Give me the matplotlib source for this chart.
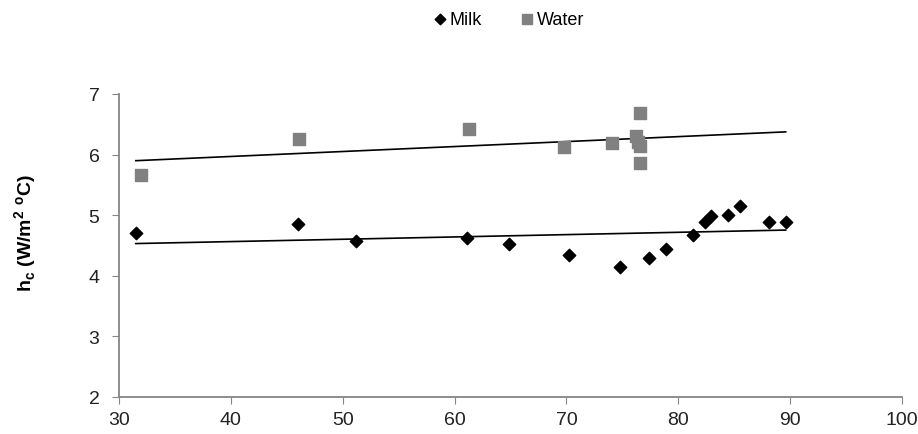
import numpy as np
import matplotlib.pyplot as plt

plt.rcParams['font.family'] = ['Liberation Sans', 'DejaVu Sans']

# Milk data (diamonds)
milk_x = [31.5, 46.0, 51.2, 61.1, 64.9, 70.2, 74.8, 77.4, 78.9, 81.3,
          82.4, 82.9, 84.4, 85.5, 88.1, 89.6]
milk_y = [4.71, 4.85, 4.58, 4.62, 4.52, 4.35, 4.15, 4.29, 4.45, 4.68,
          4.88, 4.98, 5.01, 5.15, 4.88, 4.88]

# Water data (squares)
water_x = [32.0, 46.1, 61.3, 69.8, 74.1, 76.2, 76.4, 76.6, 76.6, 76.6]
water_y = [5.66, 6.26, 6.42, 6.12, 6.19, 6.31, 6.21, 6.14, 6.69, 5.86]

xticks = [30, 40, 50, 60, 70, 80, 90, 100]
yticks = [2, 3, 4, 5, 6, 7]

fig = plt.figure(figsize=(9.18, 4.35), dpi=100)
ax = fig.add_axes([0.1296, 0.0851, 0.853, 0.6966])

ax.scatter(milk_x, milk_y, marker='D', s=40, color='black', label='Milk', zorder=3)
ax.scatter(water_x, water_y, marker='s', s=66, color='#808080', label='Water', zorder=3)

# linear trend lines over the full data span
x_all = milk_x + water_x
xs = np.array([min(x_all), max(x_all)])
for xv, yv in [(milk_x, milk_y), (water_x, water_y)]:
    k, b = np.polyfit(xv, yv, 1)
    ax.plot(xs, k * xs + b, color='black', lw=1.2, zorder=2)

ax.set_xlim(30, 100)
ax.set_ylim(2, 7)
ax.set_xticks(xticks)
ax.set_yticks(yticks)
ax.tick_params(labelsize=14, length=5, color='#868686', direction='out',
               labelcolor='#222222')
ax.tick_params(axis='x', pad=5)
ax.tick_params(axis='y', pad=9)
for s in ['top', 'right']:
    ax.spines[s].set_visible(False)
for s in ['left', 'bottom']:
    ax.spines[s].set_color('#868686')
    ax.spines[s].set_linewidth(1.3)

ax.set_ylabel('h$_\\mathregular{c}$ (W/m$^\\mathregular{2}$ $^\\mathregular{o}$C)',
              fontsize=14, fontweight='bold')
ax.yaxis.set_label_coords(-0.102, 0.545)

fig.legend(loc='center', bbox_to_anchor=(0.553, 0.954), ncol=2, frameon=False,
           fontsize=13, handletextpad=0.05, columnspacing=2.0, markerscale=0.85,
           handlelength=1.0)

fig.savefig('out.png', dpi=100)
